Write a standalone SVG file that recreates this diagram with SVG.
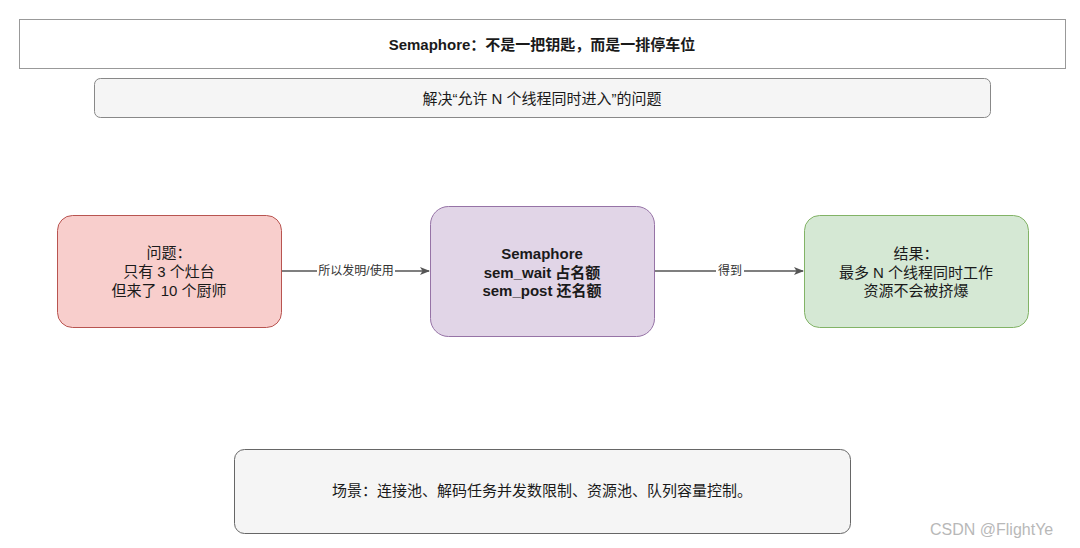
<svg xmlns="http://www.w3.org/2000/svg" width="1080" height="548" viewBox="0 0 1080 548">
<style>
text{font-family:"Liberation Sans","Noto Sans CJK SC",sans-serif;font-size:15px;fill:#1a1a1a;text-anchor:middle}
.b{font-weight:bold}
.lbl{font-size:12px;fill:#333}
.wm{font-size:16px;fill:#b8b8b8;text-anchor:start}
.edge{stroke:#555;stroke-width:1.5;fill:none}
</style>
<defs>
<marker id="ah" markerWidth="10" markerHeight="10" refX="9" refY="5" orient="auto" markerUnits="userSpaceOnUse">
<path d="M0,1 L10,5 L0,9 L2.5,5 Z" fill="#555"/>
</marker>
</defs>
<rect width="1080" height="548" fill="#fff"/>
<g id="title">
<rect x="19.5" y="19.5" width="1046" height="49" fill="#fff" stroke="#999"/>
<text class="b" x="542" y="50">Semaphore：不是一把钥匙，而是一排停车位</text>
</g>
<g id="subtitle">
<rect x="94.5" y="78.5" width="896" height="39" rx="6" fill="#f5f5f5" stroke="#888"/>
<text x="542" y="104">解决“允许 N 个线程同时进入”的问题</text>
</g>
<g id="connectors">
<path class="edge" d="M281,271 H429" marker-end="url(#ah)"/>
<rect x="317" y="263" width="78" height="16" fill="#fff"/>
<text class="lbl" x="356" y="275">所以发明/使用</text>
<path class="edge" d="M655,271 H803" marker-end="url(#ah)"/>
<rect x="716" y="263" width="28" height="16" fill="#fff"/>
<text class="lbl" x="730" y="275">得到</text>
</g>
<g id="problem">
<rect x="57.5" y="215.5" width="224" height="112" rx="15" fill="#f8cecc" stroke="#b85450"/>
<text x="169" y="258">问题：</text>
<text x="169" y="277">只有 3 个灶台</text>
<text x="169" y="296">但来了 10 个厨师</text>
</g>
<g id="semaphore">
<rect x="430.5" y="206.5" width="224" height="130" rx="18" fill="#e1d5e7" stroke="#9673a6"/>
<text class="b" x="542" y="259">Semaphore</text>
<text class="b" x="542" y="278">sem_wait 占名额</text>
<text class="b" x="542" y="296">sem_post 还名额</text>
</g>
<g id="result">
<rect x="804.5" y="215.5" width="224" height="112" rx="15" fill="#d5e8d4" stroke="#82b366"/>
<text x="916" y="259">结果：</text>
<text x="916" y="278">最多 N 个线程同时工作</text>
<text x="916" y="296">资源不会被挤爆</text>
</g>
<g id="scenario">
<rect x="234.5" y="449.5" width="616" height="84" rx="10" fill="#f5f5f5" stroke="#666"/>
<text x="542" y="496">场景：连接池、解码任务并发数限制、资源池、队列容量控制。</text>
</g>
<text class="wm" x="930" y="535">CSDN @FlightYe</text>
</svg>
